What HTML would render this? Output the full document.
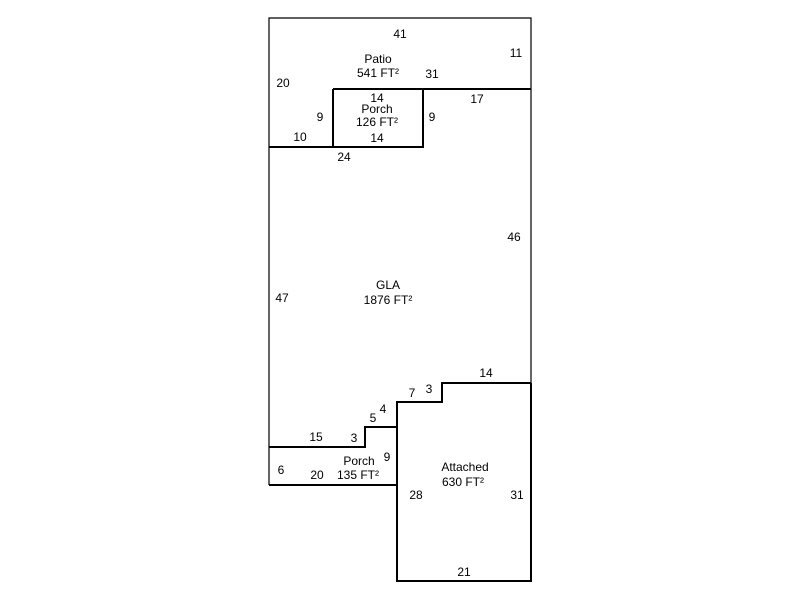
<!DOCTYPE html>
<html><head><style>body{margin:0;background:#fff}svg text{font-family:"Liberation Sans",Arial,sans-serif;font-size:12px;fill:#000;text-anchor:middle}</style></head><body>
<svg width="800" height="600" xmlns="http://www.w3.org/2000/svg">
<g fill="none" stroke="#000" stroke-width="1.2">
<path d="M269,485 V18 H531 V582"/>
</g>
<g fill="none" stroke="#000" stroke-width="2">
<path d="M333,89 H531"/>
<path d="M333,89 H423 V147 H269"/>
<path d="M333,89 V147"/>
<path d="M531,383 H442 V402 H397 V581 H531 V383"/>
<path d="M397,427 H365 V447 H269"/>
<path d="M269,485 H397"/>
</g>
<text x="400" y="38">41</text>
<text x="516" y="57">11</text>
<text x="378" y="63">Patio</text>
<text x="378" y="77">541 FT²</text>
<text x="432" y="78">31</text>
<text x="283" y="87">20</text>
<text x="377" y="102">14</text>
<text x="477" y="103">17</text>
<text x="377" y="113">Porch</text>
<text x="377" y="126">126 FT²</text>
<text x="320" y="121">9</text>
<text x="432" y="121">9</text>
<text x="300" y="141">10</text>
<text x="377" y="142">14</text>
<text x="344" y="161">24</text>
<text x="514" y="241">46</text>
<text x="388" y="289">GLA</text>
<text x="388" y="304">1876 FT²</text>
<text x="282" y="302">47</text>
<text x="486" y="377">14</text>
<text x="412" y="397">7</text>
<text x="429" y="393">3</text>
<text x="383" y="413">4</text>
<text x="373" y="422">5</text>
<text x="316" y="441">15</text>
<text x="354" y="442">3</text>
<text x="387" y="461">9</text>
<text x="359" y="465">Porch</text>
<text x="358" y="479">135 FT²</text>
<text x="281" y="474">6</text>
<text x="317" y="479">20</text>
<text x="465" y="471">Attached</text>
<text x="463" y="486">630 FT²</text>
<text x="416" y="499">28</text>
<text x="517" y="499">31</text>
<text x="464" y="576">21</text>
</svg>
</body></html>
